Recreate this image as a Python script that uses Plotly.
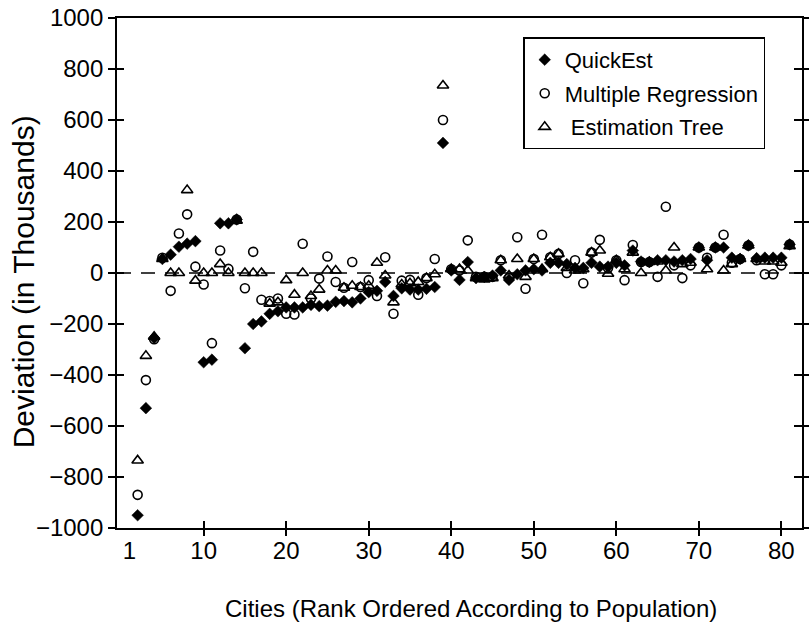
import plotly.graph_objects as go

# City rank (ordered by population) and deviation of each estimate, in thousands
cities = list(range(2, 82))

quickest = [
    -950, -530, -255, 55, 72, 103, 115, 125, -350, -340,
    195, 195, 210, -295, -200, -190, -160, -150, -135, -135,
    -135, -125, -130, -128, -113, -110, -115, -100, -75, -70,
    -35, -90, -60, -65, -65, -62, -55, 510, 10, -27,
    43, -20, -15, -10, 10, -27, -5, 10, 15, 10,
    40, 40, 35, 20, 20, 40, 25, 25, 40, 30,
    88, 45, 43, 50, 50, 45, 50, 55, 100, 50,
    100, 100, 60, 55, 108, 58, 60, 60, 60, 112,
]

multiple_regression = [
    -870, -420, -260, 60, -70, 155, 230, 25, -45, -275,
    88, 16, 210, -60, 83, -105, -110, -100, -160, -163,
    115, -100, -22, 65, -35, -58, 43, -55, -28, -90,
    62, -160, -30, -27, -85, -20, 55, 600, 15, 10,
    128, -15, -15, -15, 50, -20, 140, -62, 55, 150,
    62, 75, 0, 50, -40, 80, 130, 20, 50, -28,
    110, 43, 43, -15, 260, 30, -20, 30, 100, 60,
    100, 150, 40, 55, 108, 50, -5, -5, 30, 112,
]

estimation_tree = [
    -735, -325, -250, 55, 0, 0, 325, -30, 0, 0,
    35, 0, 205, 0, 0, 0, -120, -115, -28, -85,
    0, -90, -65, 10, 10, -58, -50, -55, -50, 40,
    -10, -115, -45, -40, -35, -20, -5, 735, 15, 15,
    10, -20, -25, -20, 50, -10, 55, -15, 55, 15,
    62, 75, 20, 10, 15, 80, 88, -3, 50, 15,
    80, 0, 43, 45, 10, 100, 35, 40, 100, 15,
    100, 10, 35, 55, 108, 55, 45, 45, 40, 105,
]

y_ticks = list(range(-1000, 1001, 200))
x_label_ticks = [1, 10, 20, 30, 40, 50, 60, 70, 80]
x_minor_ticks = [10, 20, 30, 40, 50, 60, 70, 80]

X_TITLE = "Cities (Rank Ordered According to Population)"
Y_TITLE = "Deviation (in Thousands)"

FONT = "Liberation Sans, Arial, Helvetica, sans-serif"
X_RANGE = [-0.5, 82.5]
Y_RANGE = [-1000, 1000]

fig = go.Figure()

fig.add_trace(go.Scatter(
    x=cities, y=quickest, mode="markers", name="QuickEst",
    legendgroup="a",
    marker=dict(symbol="diamond", size=9, color="black",
                line=dict(color="black", width=0.5)),
))
fig.add_trace(go.Scatter(
    x=cities, y=multiple_regression, mode="markers", name="Multiple Regression",
    legendgroup="b",
    marker=dict(symbol="circle-open", size=9, color="black",
                line=dict(color="black", width=1.6)),
))
fig.add_trace(go.Scatter(
    x=cities, y=estimation_tree, mode="markers", name=" Estimation Tree",
    legendgroup="c",
    marker=dict(symbol="triangle-up-open", size=10, color="black",
                line=dict(color="black", width=1.6)),
))

# dashed reference line at zero deviation
fig.add_shape(type="line", xref="paper", x0=0, x1=1, yref="y", y0=0, y1=0,
              line=dict(color="black", width=1.5, dash="14px,10px"), layer="below")

# axis titles
fig.add_annotation(text=X_TITLE, xref="paper", yref="paper", x=0.517, y=-0.157,
                   xanchor="center", yanchor="middle", showarrow=False,
                   font=dict(size=24))
fig.add_annotation(text=Y_TITLE, xref="paper", yref="paper", x=-0.137, y=0.482,
                   xanchor="center", yanchor="middle", showarrow=False,
                   textangle=-90, font=dict(size=30))

axis_common = dict(showgrid=False, zeroline=False, linecolor="black", linewidth=1.8)

fig.update_layout(
    width=812, height=629,
    margin=dict(l=117, r=4, t=18, b=101),
    paper_bgcolor="white", plot_bgcolor="white",
    font=dict(family=FONT, size=22, color="black"),
    showlegend=True,
    legend=dict(
        x=0.593, y=0.962, xanchor="left", yanchor="top",
        bgcolor="white", bordercolor="black", borderwidth=1.5,
        font=dict(size=22), tracegroupgap=2,
    ),
    xaxis=dict(
        range=X_RANGE, tickvals=x_label_ticks, ticktext=[str(v) for v in x_label_ticks],
        ticks="", showline=True, mirror=True,
        tickfont=dict(size=24), **axis_common,
    ),
    xaxis2=dict(
        range=X_RANGE, overlaying="x", anchor="y", side="bottom",
        tickvals=x_minor_ticks, showticklabels=False, ticks="outside",
        ticklen=7, tickwidth=1.5, tickcolor="black", showline=False,
        showgrid=False, zeroline=False,
    ),
    xaxis3=dict(
        range=X_RANGE, overlaying="x", anchor="y", side="bottom",
        tickvals=x_minor_ticks, showticklabels=False, ticks="inside",
        ticklen=7, tickwidth=1.5, tickcolor="black", showline=False,
        showgrid=False, zeroline=False,
    ),
    yaxis=dict(
        range=Y_RANGE, tickvals=y_ticks, ticktext=[str(v).replace("-", "\u2212") for v in y_ticks],
        ticks="outside", ticklen=7, tickwidth=1.5, tickcolor="black",
        showline=True, mirror=True,
        tickfont=dict(size=24), **axis_common,
    ),
    yaxis2=dict(
        range=Y_RANGE, overlaying="y", anchor="x", side="left",
        tickvals=y_ticks, showticklabels=False, ticks="inside",
        ticklen=7, tickwidth=1.5, tickcolor="black", showline=False,
        showgrid=False, zeroline=False,
    ),
    yaxis3=dict(
        range=Y_RANGE, overlaying="y", anchor="x", side="right",
        tickvals=y_ticks, showticklabels=False, ticks="outside",
        ticklen=6, tickwidth=1.5, tickcolor="black", showline=False,
        showgrid=False, zeroline=False,
    ),
    yaxis4=dict(
        range=Y_RANGE, overlaying="y", anchor="x", side="right",
        tickvals=y_ticks, showticklabels=False, ticks="inside",
        ticklen=8, tickwidth=1.5, tickcolor="black", showline=False,
        showgrid=False, zeroline=False,
    ),
)

# invisible carriers so the overlay tick axes are drawn
for xa, ya in [("x2", "y"), ("x3", "y"), ("x", "y2"), ("x", "y3"), ("x", "y4")]:
    fig.add_trace(go.Scatter(x=[None], y=[None], xaxis=xa, yaxis=ya,
                             showlegend=False, hoverinfo="skip"))

fig.write_html("out.html")
